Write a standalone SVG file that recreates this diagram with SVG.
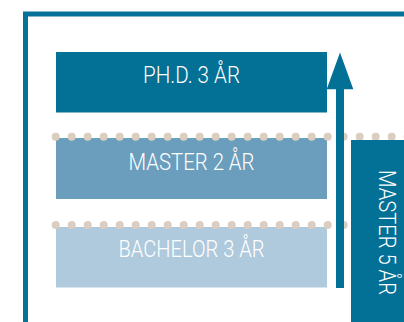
<svg xmlns="http://www.w3.org/2000/svg" width="404" height="322" viewBox="0 0 404 322">
<defs>
<style>
.lbl{font-family:Roboto,"Liberation Sans",sans-serif;font-weight:300;font-size:23px;fill:#ffffff;text-anchor:middle}
.dot{fill:#dccdc1}
.dark{fill:#037095}
</style>
</defs>
<rect width="404" height="322" fill="#ffffff"/>
<g id="frame">
<path d="M25.5 322 V14 H404" fill="none" stroke="#06739a" stroke-width="5"/>
</g>
<g id="phd">
<rect class="dark" x="56" y="52" width="271" height="60.5"/>
<text class="lbl" x="191.5" y="83.3" textLength="97" lengthAdjust="spacingAndGlyphs">PH.D. 3 ÅR</text>
</g>
<g id="master2">
<rect x="56" y="138" width="271" height="61" fill="#6a9ebc"/>
<text class="lbl" x="191.5" y="170" textLength="126" lengthAdjust="spacingAndGlyphs">MASTER 2 ÅR</text>
</g>
<g id="bachelor">
<rect x="56" y="227" width="271" height="60.5" fill="#afcadd"/>
<text class="lbl" x="191.5" y="256.5" textLength="146" lengthAdjust="spacingAndGlyphs">BACHELOR 3 ÅR</text>
</g>
<g id="dotrows">
<g transform="translate(0,136.7)">
<circle class="dot" cx="55.7" cy="0" r="4"/><circle class="dot" cx="71.7" cy="0" r="4"/><circle class="dot" cx="87.7" cy="0" r="4"/><circle class="dot" cx="103.7" cy="0" r="4"/><circle class="dot" cx="119.7" cy="0" r="4"/><circle class="dot" cx="135.7" cy="0" r="4"/><circle class="dot" cx="151.7" cy="0" r="4"/><circle class="dot" cx="167.7" cy="0" r="4"/><circle class="dot" cx="183.7" cy="0" r="4"/><circle class="dot" cx="199.7" cy="0" r="4"/><circle class="dot" cx="215.7" cy="0" r="4"/><circle class="dot" cx="231.7" cy="0" r="4"/><circle class="dot" cx="247.7" cy="0" r="4"/><circle class="dot" cx="263.7" cy="0" r="4"/><circle class="dot" cx="279.7" cy="0" r="4"/><circle class="dot" cx="295.7" cy="0" r="4"/><circle class="dot" cx="311.7" cy="0" r="4"/><circle class="dot" cx="327.7" cy="0" r="4"/><circle class="dot" cx="343.7" cy="0" r="4"/><circle class="dot" cx="359.7" cy="0" r="4"/><circle class="dot" cx="375.7" cy="0" r="4"/><circle class="dot" cx="391.7" cy="0" r="4"/><circle class="dot" cx="407.7" cy="0" r="4"/>
</g>
<g transform="translate(0,225)">
<circle class="dot" cx="55.7" cy="0" r="4"/><circle class="dot" cx="71.7" cy="0" r="4"/><circle class="dot" cx="87.7" cy="0" r="4"/><circle class="dot" cx="103.7" cy="0" r="4"/><circle class="dot" cx="119.7" cy="0" r="4"/><circle class="dot" cx="135.7" cy="0" r="4"/><circle class="dot" cx="151.7" cy="0" r="4"/><circle class="dot" cx="167.7" cy="0" r="4"/><circle class="dot" cx="183.7" cy="0" r="4"/><circle class="dot" cx="199.7" cy="0" r="4"/><circle class="dot" cx="215.7" cy="0" r="4"/><circle class="dot" cx="231.7" cy="0" r="4"/><circle class="dot" cx="247.7" cy="0" r="4"/><circle class="dot" cx="263.7" cy="0" r="4"/><circle class="dot" cx="279.7" cy="0" r="4"/><circle class="dot" cx="295.7" cy="0" r="4"/><circle class="dot" cx="311.7" cy="0" r="4"/><circle class="dot" cx="327.7" cy="0" r="4"/><circle class="dot" cx="343.7" cy="0" r="4"/>
</g>
</g>
<g id="connectors">
<rect class="dark" x="336" y="88" width="8" height="200"/>
<polygon class="dark" points="326.7,89.3 340,52.5 353.3,89.3"/>
</g>
<g id="master5">
<rect class="dark" x="351" y="140" width="53" height="182"/>
<text class="lbl" transform="translate(379,232.5) rotate(90)" x="0" y="0" textLength="125" lengthAdjust="spacingAndGlyphs">MASTER 5 ÅR</text>
</g>
</svg>
